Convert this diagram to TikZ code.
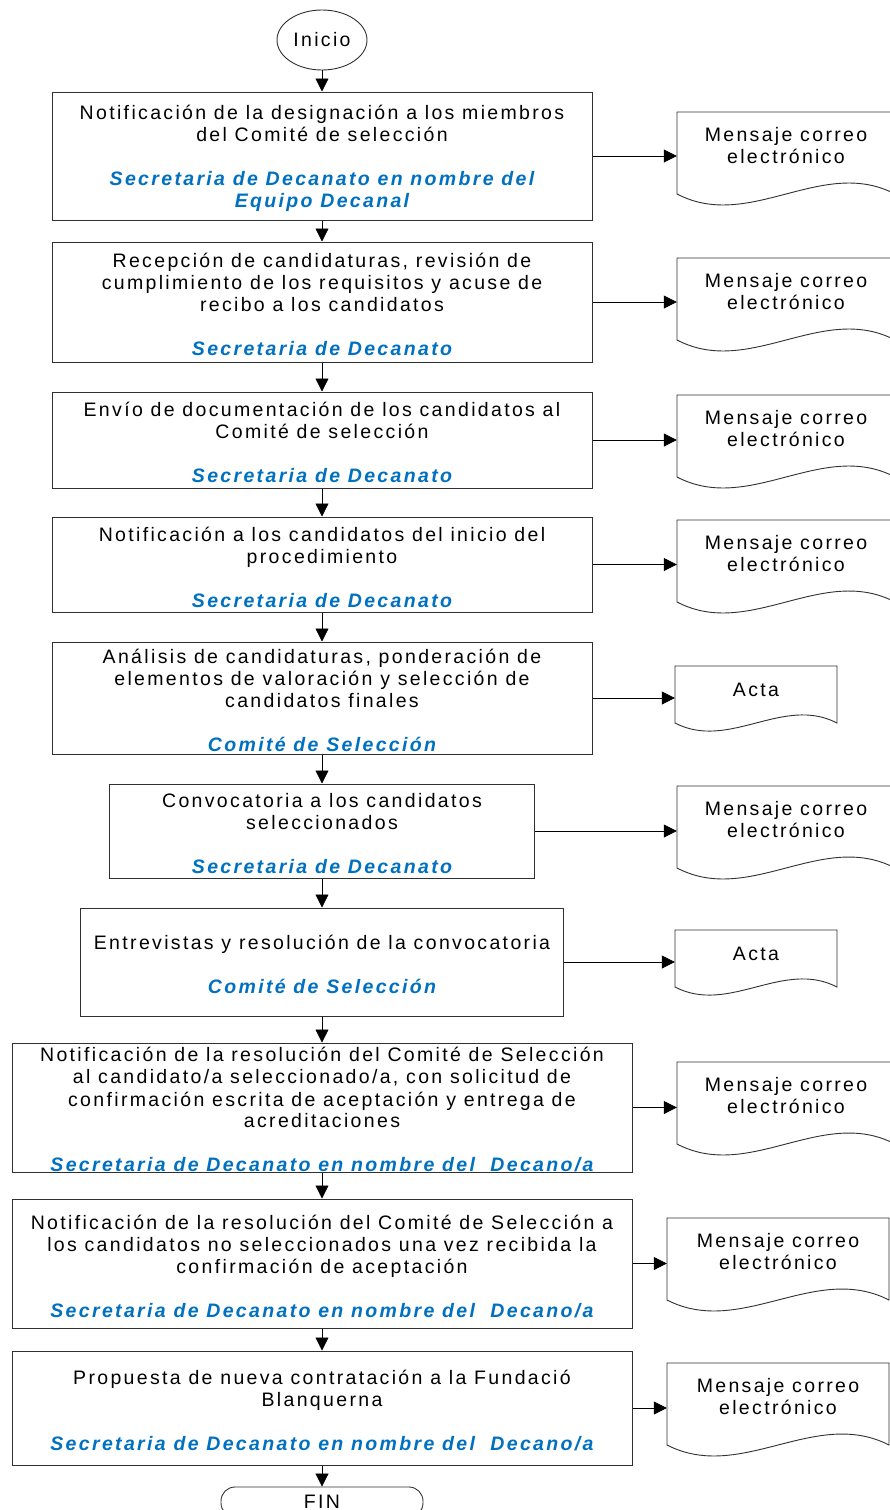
\documentclass[tikz,border=0pt]{standalone}
\usepackage{fontspec}
\newfontfamily\diag[LetterSpace=12]{Liberation Sans}
\usetikzlibrary{shapes.geometric,arrows.meta}
\definecolor{vblue}{HTML}{0070C0}
\definecolor{edge}{HTML}{303030}
\newcommand\blu[1]{{\bfseries\itshape\color{vblue}#1}}
\tikzset{
  txt/.style={font=\diag\fontsize{19.5}{22}\selectfont, text=black, align=center, inner sep=0pt},
  box/.style={draw=edge, line width=1pt, rectangle, inner sep=0pt},
  term/.style={txt, draw=edge, line width=0.9pt},
  doctext/.style={txt, minimum height=10pt},
  docline/.style={draw=edge, line width=0.9pt},
  arr/.style={draw=black, line width=0.8pt, -{Triangle[length=13pt,width=13pt]}}
}
% name, center y, w, h, text
\newcommand\stepbox[5]{%
  \node[box, minimum width=#3pt, minimum height=#4pt] (#1) at (322,#2) {};
  \node[txt, yshift=-2.5pt] (#1t) at (#1.center) {#5};
}
% name, x, top, w, h, k, text dy, text
\newcommand\docshape[8]{%
  \draw[docline] (#2,#3) -- ({#2+#4},#3) -- ({#2+#4},{#3+#5})
    .. controls ({#2+2*#4/3},{#3+#5-#6}) and ({#2+#4/3},{#3+#5+#6}) .. (#2,{#3+#5}) -- cycle;
  \node[doctext, minimum width=#4pt] (#1) at ({#2+#4/2},{#3+#7}) {#8};
}
\begin{document}
\begin{tikzpicture}[x=1pt,y=-1pt]
\useasboundingbox (0,0) rectangle (890,1510);
\clip (0,0) rectangle (890,1510);

\node[term, ellipse, minimum width=90pt, minimum height=60pt] (ini) at (322,40) {Inicio};

\stepbox{b1}{156}{540}{128}{Notificación de la designación a los miembros\\del Comité de selección\\[22pt]\blu{Secretaria de Decanato en nombre del}\\\blu{Equipo Decanal}}
\stepbox{b2}{302}{540}{120}{Recepción de candidaturas, revisión de\\cumplimiento de los requisitos y acuse de\\recibo a los candidatos\\[22pt]\blu{Secretaria de Decanato}}
\stepbox{b3}{440}{540}{96}{Envío de documentación de los candidatos al\\Comité de selección\\[22pt]\blu{Secretaria de Decanato}}
\stepbox{b4}{564.5}{540}{95}{Notificación a los candidatos del inicio del\\procedimiento\\[22pt]\blu{Secretaria de Decanato}}
\stepbox{b5}{698}{540}{112}{Análisis de candidaturas, ponderación de\\elementos de valoración y selección de\\candidatos finales\\[22pt]\blu{Comité de Selección}}
\stepbox{b6}{831}{425}{94}{Convocatoria a los candidatos\\seleccionados\\[22pt]\blu{Secretaria de Decanato}}
\stepbox{b7}{962}{483}{108}{Entrevistas y resolución de la convocatoria\\[22pt]\blu{Comité de Selección}}
\stepbox{b8}{1107.5}{620}{129}{Notificación de la resolución del Comité de Selección\\al candidato/a seleccionado/a, con solicitud de\\confirmación escrita de aceptación y entrega de\\acreditaciones\\[22pt]\blu{Secretaria de Decanato en nombre del\ \ Decano/a}}
\stepbox{b9}{1263.5}{620}{129}{Notificación de la resolución del Comité de Selección a\\los candidatos no seleccionados una vez recibida la\\confirmación de aceptación\\[22pt]\blu{Secretaria de Decanato en nombre del\ \ Decano/a}}
\stepbox{b10}{1408}{620}{114}{Propuesta de nueva contratación a la Fundació\\Blanquerna\\[22pt]\blu{Secretaria de Decanato en nombre del\ \ Decano/a}}

\node[term, rectangle, rounded corners=14pt, minimum width=202pt, minimum height=30pt] (fin) at (322,1502) {FIN};

\docshape{d1}{677}{112}{218}{82}{38}{34}{Mensaje correo\\electrónico}
\docshape{d2}{677}{258}{218}{82}{38}{34}{Mensaje correo\\electrónico}
\docshape{d3}{677}{395}{218}{82}{38}{34}{Mensaje correo\\electrónico}
\docshape{d4}{677}{520}{218}{82}{38}{34}{Mensaje correo\\electrónico}
\docshape{d5}{675}{666}{162}{57}{28}{24}{Acta}
\docshape{d6}{677}{786}{218}{82}{38}{34}{Mensaje correo\\electrónico}
\docshape{d7}{675}{930}{162}{57}{28}{24}{Acta}
\docshape{d8}{677}{1062}{218}{82}{38}{34}{Mensaje correo\\electrónico}
\docshape{d9}{667}{1218}{222}{82}{38}{34}{Mensaje correo\\electrónico}
\docshape{d10}{667}{1363}{222}{82}{38}{34}{Mensaje correo\\electrónico}

\draw[arr] (ini.south) -- (b1.north);
\draw[arr] (b1.south) -- (b2.north);
\draw[arr] (b2.south) -- (b3.north);
\draw[arr] (b3.south) -- (b4.north);
\draw[arr] (b4.south) -- (b5.north);
\draw[arr] (b5.south) -- (b6.north);
\draw[arr] (b6.south) -- (b7.north);
\draw[arr] (b7.south) -- (b8.north);
\draw[arr] (b8.south) -- (b9.north);
\draw[arr] (b9.south) -- (b10.north);
\draw[arr] (b10.south) -- (fin.north);

\draw[arr] (b1.east) -- (b1.east -| d1.west);
\draw[arr] (b2.east) -- (b2.east -| d2.west);
\draw[arr] (b3.east) -- (b3.east -| d3.west);
\draw[arr] (b4.east) -- (b4.east -| d4.west);
\draw[arr] (b5.east) -- (b5.east -| d5.west);
\draw[arr] (b6.east) -- (b6.east -| d6.west);
\draw[arr] (b7.east) -- (b7.east -| d7.west);
\draw[arr] (b8.east) -- (b8.east -| d8.west);
\draw[arr] (b9.east) -- (b9.east -| d9.west);
\draw[arr] (b10.east) -- (b10.east -| d10.west);
\end{tikzpicture}
\end{document}
